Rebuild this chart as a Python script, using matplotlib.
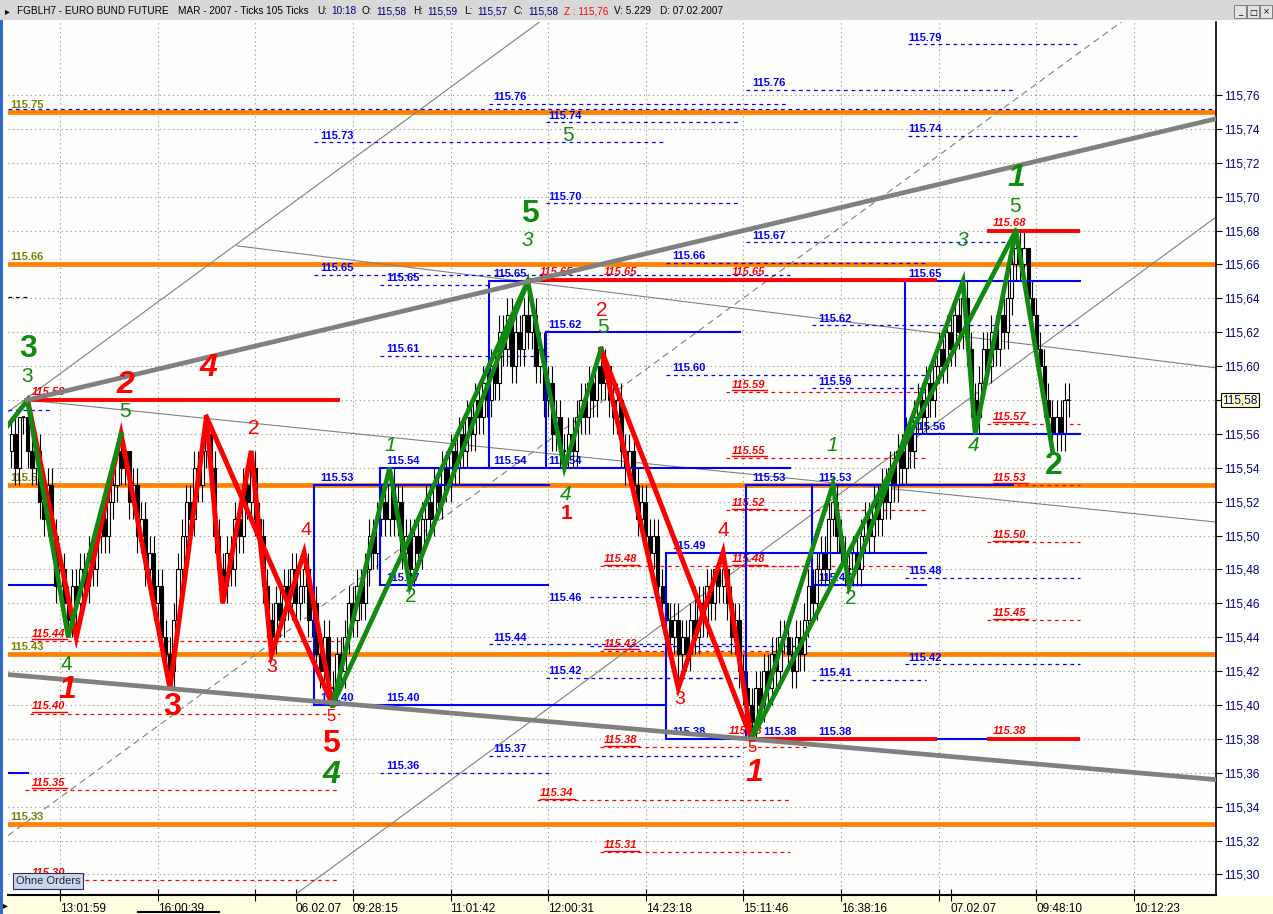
import numpy as np
import matplotlib
matplotlib.use("Agg")
import matplotlib.pyplot as plt
from matplotlib.patches import Rectangle
from matplotlib.lines import Line2D

plt.rcParams['font.family'] = ['Liberation Sans', 'DejaVu Sans']

# ---- candle data (hundredths above 115.00), one bar = 105 ticks ----
BASE = 115.0
first_open = 55
closes = [56, 54, 57, 57, 55, 54, 55, 52, 51, 53,
          50, 47, 48, 46, 45, 47, 46, 48, 47, 49,
          48, 50, 51, 50, 52, 53, 55, 54, 55, 52,
          53, 50, 51, 48, 49, 46, 47, 44, 43, 42,
          45, 48, 50, 52, 51, 54, 53, 55, 56, 54,
          50, 48, 47, 49, 48, 51, 50, 53, 52, 54,
          51, 50, 47, 45, 44, 46, 45, 47, 46, 48,
          46, 47, 48, 45, 46, 43, 42, 44, 41, 41,
          43, 42, 44, 46, 45, 47, 46, 48, 50, 49,
          51, 52, 51, 53, 51, 52, 49, 50, 48, 50,
          49, 51, 52, 51, 53, 52, 54, 53, 55, 54,
          56, 55, 57, 56, 58, 57, 59, 58, 60, 59,
          62, 61, 63, 60, 62, 61, 63, 62, 63, 60,
          61, 58, 59, 56, 57, 55, 55, 56, 55, 57,
          58, 57, 59, 58, 60, 59, 60, 58, 57, 58,
          55, 54, 55, 53, 51, 52, 50, 49, 50, 47,
          46, 45, 44, 45, 43, 44, 43, 45, 44, 46,
          45, 47, 46, 48, 47, 48, 46, 44, 45, 42,
          41, 40, 39, 41, 40, 42, 41, 43, 42, 44,
          44, 43, 42, 44, 43, 45, 47, 46, 48, 49,
          48, 51, 52, 50, 49, 48, 48, 49, 48, 50,
          51, 50, 52, 51, 53, 52, 54, 53, 55, 54,
          56, 55, 57, 58, 57, 59, 58, 60, 61, 60,
          62, 61, 63, 62, 64, 61, 58, 57, 59, 61,
          60, 62, 61, 63, 62, 64, 66, 67, 66, 67,
          64, 63, 61, 60, 58, 57, 56, 57, 56, 58, 58]
highs = [57, 57, 57, 57, 58, 56, 56, 56, 53, 54,
         54, 51, 49, 49, 47, 48, 48, 49, 49, 50,
         50, 51, 52, 52, 53, 54, 55, 56, 55, 55,
         54, 54, 52, 52, 50, 50, 48, 48, 45, 44,
         46, 49, 51, 53, 53, 55, 55, 56, 57, 56,
         55, 51, 49, 50, 50, 52, 52, 54, 54, 55,
         55, 52, 51, 48, 46, 47, 47, 48, 48, 49,
         49, 48, 49, 49, 47, 47, 44, 45, 45, 42,
         44, 44, 45, 47, 47, 48, 48, 49, 51, 51,
         52, 53, 53, 54, 54, 53, 53, 51, 51, 51,
         51, 52, 53, 53, 54, 54, 55, 55, 56, 56,
         57, 57, 58, 58, 59, 59, 60, 60, 61, 61,
         63, 63, 64, 64, 63, 63, 64, 65, 64, 64,
         62, 62, 60, 60, 58, 58, 56, 57, 57, 58,
         59, 59, 60, 60, 60, 61, 61, 60, 59, 59,
         59, 56, 56, 56, 54, 53, 53, 51, 51, 51,
         48, 47, 46, 46, 46, 45, 45, 46, 47, 47,
         47, 48, 48, 48, 48, 49, 48, 47, 46, 46,
         43, 42, 41, 42, 42, 43, 43, 44, 44, 45,
         45, 45, 44, 45, 45, 46, 48, 48, 49, 50,
         50, 52, 53, 53, 51, 50, 49, 50, 50, 51,
         52, 52, 53, 53, 54, 54, 55, 55, 56, 56,
         57, 57, 58, 59, 59, 60, 60, 61, 62, 62,
         63, 63, 64, 64, 65, 65, 62, 59, 60, 62,
         62, 63, 63, 64, 64, 65, 67, 68, 68, 68,
         67, 65, 64, 62, 61, 59, 58, 58, 58, 59, 59]
lows = [54, 53, 53, 56, 54, 53, 53, 51, 50, 50,
        49, 46, 46, 45, 44, 44, 44, 45, 46, 46,
        47, 47, 49, 49, 49, 51, 52, 53, 53, 51,
        51, 49, 49, 47, 47, 45, 45, 43, 42, 41,
        41, 44, 47, 49, 50, 50, 52, 52, 54, 53,
        49, 47, 46, 46, 47, 47, 49, 49, 51, 51,
        50, 49, 46, 44, 43, 43, 44, 44, 45, 45,
        45, 45, 46, 44, 44, 42, 41, 41, 40, 40,
        40, 41, 41, 43, 44, 44, 45, 45, 47, 48,
        48, 50, 50, 50, 50, 50, 48, 48, 47, 47,
        48, 48, 50, 50, 50, 51, 51, 52, 52, 53,
        53, 54, 54, 55, 55, 56, 56, 57, 57, 58,
        58, 60, 60, 59, 59, 60, 60, 61, 61, 59,
        59, 57, 57, 55, 55, 54, 54, 54, 54, 54,
        56, 56, 56, 57, 57, 58, 58, 57, 56, 56,
        54, 53, 53, 52, 50, 50, 49, 48, 48, 46,
        45, 44, 43, 43, 41, 42, 42, 42, 43, 43,
        44, 44, 45, 45, 46, 46, 45, 43, 43, 41,
        40, 39, 38, 38, 39, 39, 40, 40, 41, 41,
        43, 42, 41, 41, 42, 42, 44, 45, 45, 47,
        47, 47, 50, 49, 48, 47, 47, 47, 47, 47,
        49, 49, 49, 50, 50, 51, 51, 52, 52, 53,
        53, 54, 54, 56, 56, 56, 57, 57, 59, 59,
        59, 60, 60, 61, 61, 60, 57, 56, 56, 58,
        59, 59, 60, 60, 61, 61, 63, 65, 65, 65,
        63, 62, 60, 59, 57, 56, 55, 55, 55, 55, 57]

# time axis (bar index -> label)
tick_bars = [12, 36, 60, 70, 84, 108, 132, 156, 180, 204, 228, 231, 252, 276]
tick_labels = ["13:01:59", "16:00:39", "", "06.02.07", "09:28:15", "11:01:42",
               "12:00:31", "14:23:18", "15:11:46", "16:38:16", "", "07.02.07",
               "09:48:10", "10:12:23"]

# Elliott wave zigzags (bar, price)
green_legs = [
    ([-0.8, 4, 14, 27], [115.565, 115.58, 115.44, 115.56]),
    ([79, 93, 98, 127, 136, 145], [115.40, 115.54, 115.47, 115.65, 115.54, 115.61]),
    ([79, 127], [115.40, 115.65]),
    ([182, 202, 206, 234, 237, 247, 256], [115.38, 115.53, 115.47, 115.65, 115.56, 115.68, 115.55]),
    ([182, 247], [115.38, 115.68]),
]
red_legs = [
    ([4, 16, 27, 39, 48, 52, 59, 64, 72, 79],
     [115.58, 115.44, 115.56, 115.41, 115.57, 115.46, 115.55, 115.43, 115.49, 115.40]),
    ([48, 79], [115.57, 115.40]),
    ([145, 164, 175, 182], [115.61, 115.41, 115.49, 115.38]),
    ([145, 182], [115.61, 115.38]),
]

orange_levels = [115.75, 115.66, 115.53, 115.43, 115.33]

# trend lines ((x0, x1), (p0, p1))
thick_gray = [((3.9, 296.2), (115.58, 115.746)), ((-0.8, 296.2), (115.418, 115.356))]
thin_gray = [((3.9, 296.2), (115.58, 115.508)), ((55.5, 296.2), (115.671, 115.599)),
             ((-0.8, 129.8), (115.573, 115.803)), ((70.3, 296.2), (115.289, 115.688))]
dashed_gray = [((-0.8, 273.4), (115.323, 115.804))]

# blue target lines: (label, price, start bar, end bar, label bar)
blue_dashed = [
    ("115.79", 115.790, 220.5, 262.8, 220.5), ("115.76", 115.763, 180.7, 246.3, 182.2),
    ("115.76", 115.755, 117.5, 190.8, 118.5), ("", 115.752, -0.8, 296.2, None),
    ("115.74", 115.744, 131.5, 179.2, 132.0), ("115.74", 115.736, 220.5, 262.8, 220.5),
    ("115.73", 115.732, 74.5, 161.0, 76.0), ("115.70", 115.696, 131.5, 179.2, 132.0),
    ("115.67", 115.673, 180.7, 246.3, 182.2), ("115.66", 115.661, 161.0, 224.9, 162.5),
    ("115.65", 115.654, 74.5, 191.5, 76.0), ("115.65", 115.648, 90.7, 117.5, 92.2),
    ("115.62", 115.624, 196.9, 262.8, 198.4), ("115.61", 115.606, 90.7, 132.2, 92.2),
    ("115.60", 115.595, 161.0, 224.9, 162.5), ("115.59", 115.587, 196.9, 224.9, 198.4),
    ("115.48", 115.475, 219.8, 262.8, 220.5), ("115.44", 115.436, 117.5, 179.2, 118.5),
    ("115.42", 115.416, 131.5, 179.2, 132.0), ("115.42", 115.424, 219.8, 262.8, 220.5),
    ("115.41", 115.415, 196.9, 224.9, 198.4), ("115.37", 115.370, 117.5, 179.2, 118.5),
    ("115.36", 115.360, 90.7, 132.2, 92.2), ("", 115.574, -0.8, 10.3, None),
    ("", 115.435, 142.3, 196.4, None), ("", 115.464, 142.3, 161.0, None),
    ("", 115.416, 161.0, 175.0, None),
]
blue_solid_h = [
    (115.471, -0.8, 10.3), (115.360, -0.8, 4.1), (115.53, 74.5, 132.2), (115.40, 74.5, 161.0),
    (115.54, 90.7, 191.5), (115.471, 90.7, 132.0), (115.65, 117.5, 262.8), (115.62, 131.5, 179.2),
    (115.49, 161.0, 224.9), (115.38, 161.0, 182.2), (115.53, 180.7, 246.3), (115.471, 196.9, 224.9),
    (115.56, 219.8, 262.8), (115.38, 227.6, 239.9),
]
blue_solid_v = [
    (74.5, 115.40, 115.53), (90.7, 115.471, 115.54), (117.5, 115.54, 115.65), (131.5, 115.54, 115.62),
    (161.0, 115.38, 115.49), (180.7, 115.38, 115.53), (196.9, 115.471, 115.53), (219.8, 115.56, 115.65),
]
blue_solid_labels = [
    ("115.53", 115.53, 76.0), ("115.54", 115.54, 92.2), ("115.54", 115.54, 118.5),
    ("115.54", 115.54, 132.0), ("115.65", 115.65, 118.5), ("115.62", 115.62, 132.0),
    ("115.49", 115.49, 162.5), ("115.38", 115.38, 162.5), ("115.53", 115.53, 182.2),
    ("115.53", 115.53, 198.4), ("115.47", 115.471, 198.4), ("115.46", 115.459, 132.0),
    ("115.56", 115.56, 221.5), ("115.65", 115.65, 220.5), ("115.40", 115.40, 92.2),
    ("115.40", 115.40, 76.0), ("115.38", 115.38, 198.4), ("115.38", 115.38, 185.0),
    ("115.47", 115.471, 92.2),
]

# red stop / target lines
red_dashed = [
    ("115.44", 115.438, 4.6, 80.8, 5.1), ("115.40", 115.395, 4.6, 80.8, 5.1),
    ("115.35", 115.350, 3.4, 80.8, 5.1), ("115.30", 115.297, 3.4, 80.8, 5.1),
    ("115.59", 115.585, 175.8, 224.9, 177.2), ("115.55", 115.546, 175.8, 224.9, 177.2),
    ("115.52", 115.515, 175.8, 224.9, 177.2), ("115.48", 115.482, 175.8, 224.9, 177.2),
    ("115.48", 115.482, 144.8, 196.4, 145.8), ("115.43", 115.432, 144.8, 196.4, 145.8),
    ("115.38", 115.375, 144.8, 196.4, 145.8), ("115.34", 115.344, 129.3, 191.5, 130.0),
    ("115.31", 115.313, 144.8, 191.5, 145.8), ("115.57", 115.566, 239.9, 262.8, 241.4),
    ("115.53", 115.530, 239.9, 262.8, 241.4), ("115.50", 115.496, 239.9, 262.8, 241.4),
    ("115.45", 115.450, 239.9, 262.8, 241.4),
]
red_solid = [(115.58, 3.9, 80.8), (115.651, 127.6, 227.6), (115.68, 239.9, 262.8),
             (115.38, 182.2, 227.6), (115.38, 239.9, 262.8)]
red_solid_labels = [("115.58", 115.58, 5.1), ("115.65", 115.651, 130.0), ("115.65", 115.651, 145.8),
                    ("115.65", 115.651, 177.2), ("115.68", 115.68, 241.4), ("115.38", 115.38, 241.4),
                    ("115.38", 115.38, 176.3)]

G = '#108A10'
R = '#FF0000'
waves = [
    (4.1, 115.610, '3', G, 23, True, False), (3.9, 115.594, '3', G, 15, False, False),
    (28.0, 115.589, '2', R, 23, True, True), (28.0, 115.573, '5', G, 15, False, False),
    (48.4, 115.599, '4', R, 23, True, True), (59.5, 115.563, '2', R, 15, False, False),
    (51.8, 115.471, '1', R, 15, False, False), (13.5, 115.424, '4', G, 15, False, False),
    (13.7, 115.409, '1', R, 23, True, True), (39.5, 115.399, '3', R, 23, True, False),
    (64.1, 115.422, '3', R, 14, False, False), (72.5, 115.503, '4', R, 14, False, False),
    (78.6, 115.393, '5', R, 12, False, False), (78.6, 115.377, '5', R, 23, True, False),
    (78.6, 115.359, '4', G, 23, True, True), (93.1, 115.553, '1', G, 15, False, True),
    (98.3, 115.464, '2', G, 15, False, False), (127.6, 115.690, '5', G, 23, True, False),
    (126.8, 115.674, '3', G, 15, False, True), (136.9, 115.736, '5', G, 15, False, False),
    (145.3, 115.633, '2', R, 15, False, False), (145.5, 115.623, '5', G, 15, False, False),
    (136.4, 115.524, '4', G, 15, False, True), (136.4, 115.513, '1', R, 15, True, False),
    (164.4, 115.403, '3', R, 14, False, False), (175.0, 115.503, '4', R, 15, False, False),
    (182.2, 115.375, '5', R, 12, False, False), (182.6, 115.360, '1', R, 23, True, True),
    (201.8, 115.553, '1', G, 15, False, True), (206.5, 115.463, '2', G, 15, False, False),
    (233.8, 115.674, '3', G, 15, False, True), (236.5, 115.553, '4', G, 15, False, True),
    (246.8, 115.694, '5', G, 15, False, False), (247.1, 115.711, '1', G, 23, True, True),
    (256.2, 115.541, '2', G, 23, True, False),
]

W, H = 1273, 914
fig = plt.figure(figsize=(W / 100, H / 100), dpi=100)
fig.patch.set_facecolor('white')
ax = fig.add_axes([8 / W, 19 / H, 1208 / W, 873 / H])
ax.set_facecolor('#FEFEFC')
ax.set_xlim(-0.8, 296.2)
ax.set_ylim(115.2879, 115.8031)

# grid
for gx in range(12, 290, 24):
    ax.axvline(gx, color='#8C8C8C', lw=0.8, ls=(0, (1, 3)), zorder=1)
for gy in np.arange(115.30, 115.77, 0.02):
    ax.axhline(gy, color='#8C8C8C', lw=0.8, ls=(0, (1, 3)), zorder=1)

# orange levels + olive labels
for lv in orange_levels:
    ax.axhline(lv, color='#FF8000', lw=3.4, zorder=2)
    ax.text(-0.3, lv + 0.0012, "%.2f" % lv, color='#808000', fontsize=8, fontweight='bold',
            ha='left', va='bottom', zorder=2.1)

# thin trend lines
for xs, ps in thin_gray:
    ax.plot(xs, ps, color='#808080', lw=0.8, zorder=2.3)
for xs, ps in dashed_gray:
    ax.plot(xs, ps, color='#808080', lw=0.8, ls=(0, (6, 4)), zorder=2.3)

# dashed target lines
for lab, p, x0, x1, lx in blue_dashed:
    ax.plot([x0, x1], [p, p], color='#0000FF', lw=0.9, ls=(0, (3, 3)), zorder=2.6)
    if lab:
        ax.text(lx, p + 0.0009, lab, color='#0000FF', fontsize=8, fontweight='bold',
                ha='left', va='bottom', zorder=2.8)
for lab, p, x0, x1, lx in red_dashed:
    ax.plot([x0, x1], [p, p], color='#FF0000', lw=0.9, ls=(0, (3, 3)), zorder=2.6)
    ax.text(lx, p + 0.0012, lab, color='#FF0000', fontsize=8, fontweight='bold', style='italic',
            ha='left', va='bottom', zorder=2.8)
    ax.plot([lx, lx + 8.6], [p + 0.0008, p + 0.0008], color='#FF0000', lw=1.0, zorder=2.8)
ax.plot([-0.8, 4.6], [115.641, 115.641], color='black', lw=0.9, ls=(0, (3, 3)), zorder=2.6)

# candles
opens = [first_open] + closes[:-1]
o = BASE + np.array(opens) / 100
c = BASE + np.array(closes) / 100
hi = BASE + np.array(highs) / 100
lo = BASE + np.array(lows) / 100
x = np.arange(len(closes))
ax.vlines(x, lo, hi, color='black', lw=0.8, zorder=3)
body_lo = np.minimum(o, c)
body_h = np.abs(c - o)
fill = np.where(c > o, 'white', 'black')
ax.bar(x, body_h, bottom=body_lo, width=0.75, color=fill, edgecolor='black', lw=0.8, zorder=3.1)
flat = body_h < 1e-9
ax.hlines(c[flat], x[flat] - 0.4, x[flat] + 0.4, color='black', lw=1.2, zorder=3.1)

# blue solid boxes
for p, x0, x1 in blue_solid_h:
    ax.plot([x0, x1], [p, p], color='#0000FF', lw=1.5, zorder=3.5)
for xv, p0, p1 in blue_solid_v:
    ax.plot([xv, xv], [p0, p1], color='#0000FF', lw=1.5, zorder=3.5)
for lab, p, lx in blue_solid_labels:
    ax.text(lx, p + 0.0012, lab, color='#0000FF', fontsize=8, fontweight='bold',
            ha='left', va='bottom', zorder=2.9)

# red solid levels
for p, x0, x1 in red_solid:
    ax.plot([x0, x1], [p, p], color='#FF0000', lw=2.8, zorder=3.6, solid_capstyle='butt')
for lab, p, lx in red_solid_labels:
    ax.text(lx, p + 0.0016, lab, color='#FF0000', fontsize=8, fontweight='bold', style='italic',
            ha='left', va='bottom', zorder=2.9)

# zigzags
for xs, ps in red_legs:
    ax.plot(xs, ps, color='#FF0000', lw=3.6, zorder=4, solid_joinstyle='miter')
for xs, ps in green_legs:
    ax.plot(xs, ps, color=G, lw=3.4, zorder=4.2, solid_joinstyle='miter')

# thick gray channel
for xs, ps in thick_gray:
    ax.plot(xs, ps, color='#808080', lw=3.4, zorder=4.5)

# wave counts
for wx, wp, s, col, size, bold, ital in waves:
    ax.text(wx, wp, s, color=col, fontsize=size, fontweight='bold' if bold else 'normal',
            style='italic' if ital else 'normal', ha='center', va='center', zorder=6)

# axes, ticks
for side in ['left', 'top']:
    ax.spines[side].set_visible(False)
ax.spines['right'].set_color('black')
ax.spines['right'].set_linewidth(1.2)
ax.spines['bottom'].set_color('black')
ax.spines['bottom'].set_linewidth(1.5)

yt = np.round(np.arange(115.30, 115.761, 0.02), 2)
ax.yaxis.tick_right()
ax.set_yticks(yt)
ax.set_yticklabels([("%.2f" % v).replace('.', ',') if abs(v - 115.58) > 1e-6 else '' for v in yt])
ax.tick_params(axis='y', color='black', labelcolor='#000080', labelsize=8.5, length=4,
               direction='out', pad=2)
ax.set_xticks(tick_bars)
ax.set_xticklabels(tick_labels, ha='left')
ax.tick_params(axis='x', color='black', labelcolor='black', labelsize=8.5, length=8,
               direction='inout', pad=2)

# current price marker
ax.text(1.005, 115.58, "115,58", transform=ax.get_yaxis_transform(), fontsize=8.5,
        color='#000080', ha='left', va='center', clip_on=False, zorder=10,
        bbox=dict(boxstyle='square,pad=0.12', fc='#FFFFC0', ec='black', lw=0.8))

# window chrome
fig.add_artist(Rectangle((0, 0), 1, 18 / H, transform=fig.transFigure, fc='#FFFFE1', ec='none', zorder=-1))
fig.add_artist(Rectangle((0, 1 - 20 / H), 1, 20 / H, transform=fig.transFigure, fc='#D8D8D8', ec='none', zorder=-1))
fig.add_artist(Rectangle((0, 0), 3 / W, 1 - 20 / H, transform=fig.transFigure, fc='#2F6BD0', ec='none', zorder=-1))
fig.add_artist(Line2D([138 / W, 219 / W], [2 / H, 2 / H], color='black', lw=1.5))
fig.text(3 / W, 9 / H, "\u25b8", fontsize=7, color='black', va='center', ha='left',
         family=['DejaVu Sans'])
fig.text(5 / W, 1 - 11 / H, "\u25b8", fontsize=7, color='black', va='center', ha='left',
         family=['DejaVu Sans'])

title_parts = [(17, "FGBLH7 - EURO BUND FUTURE", "black"), (178, "MAR - 2007 - Ticks 105 Ticks", "black"),
               (317, "U:", "black"), (331, "10:18", "#000080"), (362, "O:", "black"),
               (376, "115,58", "#000080"), (413, "H:", "black"), (427, "115,59", "#000080"),
               (464, "L:", "black"), (477, "115,57", "#000080"), (514, "C:", "black"),
               (528, "115,58", "#000080"), (564, "Z : 115,76", "#FF0000"),
               (614, "V: 5.229", "black"), (660, "D: 07.02.2007", "black")]
for tx, s, col in title_parts:
    fig.text(tx / W, 1 - 11 / H, s, fontsize=7.2, color=col, va='center', ha='left')

for bx, glyph in [(1240, "_"), (1253, "\u25a1"), (1266, "\u00d7")]:
    fig.add_artist(Rectangle(((bx - 6) / W, 1 - 18 / H), 12 / W, 13 / H, transform=fig.transFigure,
                             fc='#E4E4E4', ec='#707070', lw=0.6))
    fig.text(bx / W, 1 - 12 / H, glyph, fontsize=6, color='black', ha='center', va='center',
             family=['DejaVu Sans'])

fig.text(16 / W, 1 - 881 / H, "Ohne Orders", fontsize=8, color='#202040', va='center', ha='left',
         bbox=dict(boxstyle='square,pad=0.25', fc='#C8D8E8', ec='#303050', lw=0.8), zorder=10)

fig.savefig("out.png", dpi=100)
